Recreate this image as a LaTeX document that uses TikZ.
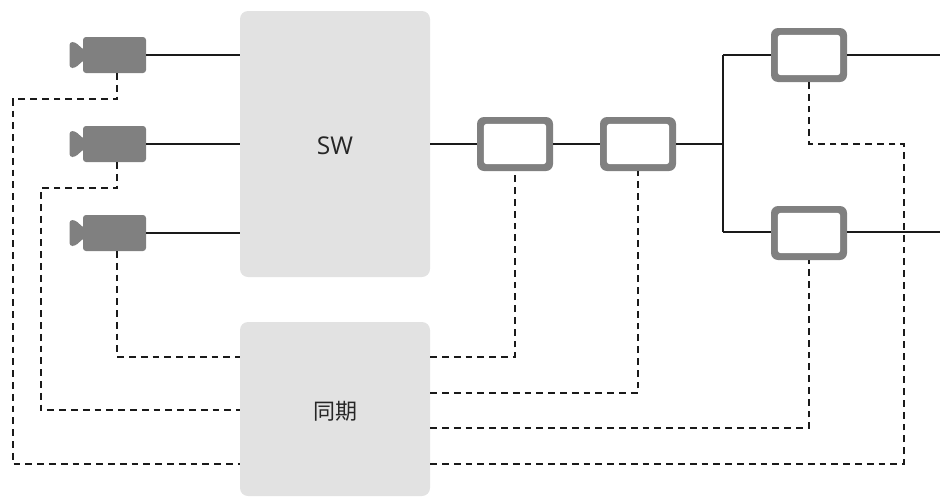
\documentclass[tikz,border=0pt]{standalone}
\usepackage{fontspec}
\setmainfont{Open Sans}
\newfontfamily\cjkjp{Noto Sans CJK JP}
\definecolor{boxgrey}{HTML}{E2E2E2}
\definecolor{camgrey}{HTML}{808080}
\definecolor{wire}{HTML}{1A1A1A}
\tikzset{
  bigbox/.style={fill=boxgrey,draw=none,rounded corners=8pt,minimum width=190pt,inner sep=0pt,font=\fontsize{24.5pt}{28pt}\selectfont,text=black!85,text depth=0pt},
  cambody/.style={fill=camgrey,draw=none,rounded corners=3pt,minimum width=63pt,minimum height=36pt,inner sep=0pt},
  lens/.style={fill=camgrey,draw=none,rounded corners=3pt},
  unit/.style={fill=camgrey,draw=none,rounded corners=7pt,minimum width=76pt,minimum height=54pt,inner sep=0pt},
  unithole/.style={fill=white,rounded corners=3pt},
  wireline/.style={draw=wire,line width=1.4pt},
  syncline/.style={draw=wire,line width=1.4pt,dash pattern=on 6.8pt off 5pt}
}
\begin{document}
\begin{tikzpicture}[x=1pt,y=-1pt]
\useasboundingbox (0,0) rectangle (940,496);
\clip (0,0) rectangle (940,496);
\coordinate (j) at (723,144);
\coordinate (j1) at (723,55);
\coordinate (j2) at (723,232);
\coordinate (o1) at (940,55);
\coordinate (o2) at (940,232);
\coordinate (k1) at (117,73);
\coordinate (k2) at (117,162);
\coordinate (k3) at (117,251);
% boxes
\node[bigbox,minimum height=266pt,text height=20pt] (sw) at (335,144) {SW};
\node[bigbox,minimum height=174pt,text height=20.6pt,font=\cjkjp\fontsize{22pt}{26pt}\selectfont] (sync) at (335,409) {同期};
\node[cambody] (c1) at (114.5,55) {};
\node[cambody] (c2) at (114.5,144) {};
\node[cambody] (c3) at (114.5,233) {};
\foreach \y in {55,144,233}{
  \fill[lens] (86,\y-5) -- (84,\y-5) -- (75,\y-13) -- (69.5,\y-13) -- (69.5,\y+13) -- (75,\y+13) -- (84,\y+5) -- (86,\y+5) -- cycle;
}
\node[unit] (u1) at (515,144) {};
\node[unit] (u2) at (638,144) {};
\node[unit] (u3) at (809,55) {};
\node[unit] (u4) at (809,233) {};
\foreach \u in {u1,u2,u3,u4}{
  \fill[unithole] ([shift={(7,7)}]\u.north west) rectangle ([shift={(-7,-7)}]\u.south east);
}
% solid connectors
\draw[wireline] (c1.east) -- (c1.east -| sw.west);
\draw[wireline] (c2.east) -- (c2.east -| sw.west);
\draw[wireline] (c3.east) -- (c3.east -| sw.west);
\draw[wireline] (sw.east |- u1.west) -- (u1.west);
\draw[wireline] (u1.east) -- (u2.west);
\draw[wireline] (u2.east) -- (j);
\draw[wireline] (j1) -- (j2);
\draw[wireline] (j1) -- (j1 -| u3.west);
\draw[wireline] (j2) -- (j2 -| u4.west);
\draw[wireline] (u3.east) -- (o1);
\draw[wireline] (j2 -| u4.east) -- (o2);
% dashed connectors
\draw[syncline] (k1) -- (117,99) -- (13,99) -- (13,464) -- (sync.west |- 0,464);
\draw[syncline] (k2) -- (117,188) -- (41,188) -- (41,410) -- (sync.west |- 0,410);
\draw[syncline] (k3) -- (117,357) -- (sync.west |- 0,357);
\draw[syncline] (sync.east |- 0,357) -- (515,357) -- (u1.south);
\draw[syncline] (sync.east |- 0,393) -- (638,393) -- (u2.south);
\draw[syncline] (sync.east |- 0,428) -- (809,428) -- (u4.south);
\draw[syncline] (sync.east |- 0,464) -- (904,464) -- (904,144) -- (809,144) -- (u3.south);
\end{tikzpicture}
\end{document}
